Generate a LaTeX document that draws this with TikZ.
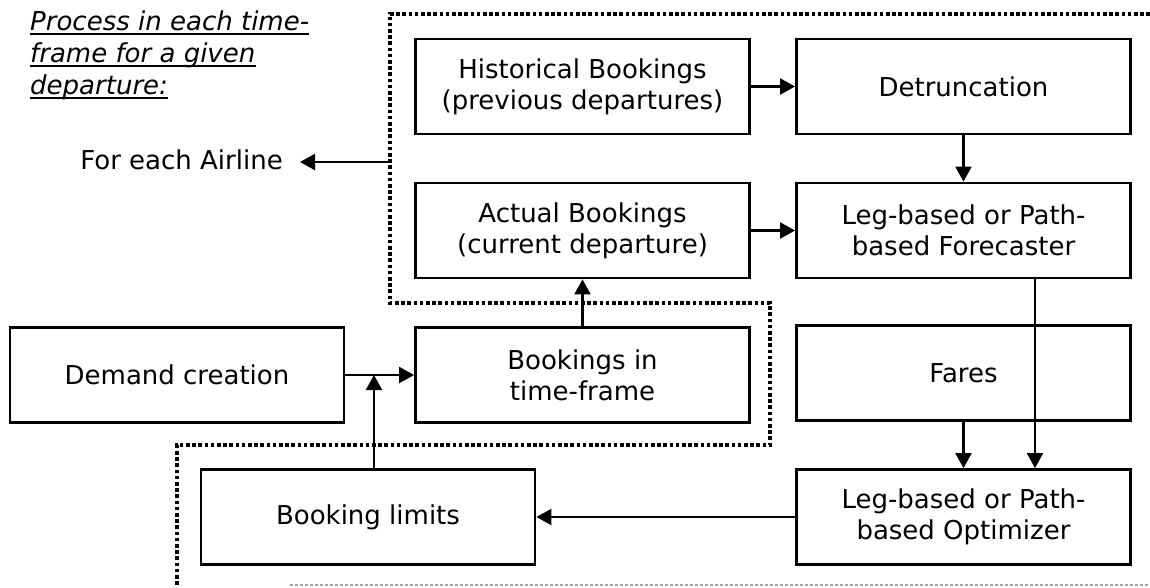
\documentclass[tikz,border=0pt]{standalone}
\usepackage{fontspec}
\setmainfont{DejaVu Sans}
\usetikzlibrary{arrows.meta}
\tikzset{
  procbox/.style={draw, line width=2.8pt, minimum width=334pt, minimum height=95pt,
    inner sep=0pt, align=center, font=\fontsize{26}{31}\selectfont},
  flow/.style={line width=2.2pt, -{Triangle[length=15pt,width=16pt]}},
  bound/.style={line width=3.6pt, dash pattern=on 3.6pt off 2.6pt, line cap=butt},
  faint/.style={line width=1.2pt, dash pattern=on 3pt off 2pt, black!35},
  heading/.style={anchor=base west, inner sep=0pt, font=\fontsize{26}{32}\selectfont\itshape},
  rule/.style={line width=2pt},
}
\begin{document}
\begin{tikzpicture}[x=1pt,y=-1pt]
\useasboundingbox (0,0) rectangle (1150,587);

% scope of the airline process
\draw[bound] (1150,14) -- (390,14) -- (390,303) -- (770,303) -- (770,445)
  -- (177,445) -- (177,587);
\draw[faint] (290,585) -- (1150,585);

% heading, underlined line by line
\node[heading] (title1) at (30,30) {Process in each time-};
\node[heading] (title2) at (30,62) {frame for a given};
\node[heading] (title3) at (30,94) {departure:};
\foreach \t in {title1,title2,title3}
  \draw[rule] ([yshift=-4pt]\t.base west) -- ([yshift=-4pt]\t.base east);

% boxes
\node[procbox] (hist)   at (582.5,86.5) {Historical Bookings\\(previous departures)};
\node[procbox] (detr)   at (963.5,86.5) {Detruncation};
\node[procbox] (actual) at (582.5,230.5) {Actual Bookings\\(current departure)};
\node[procbox] (fore)   at (963.5,230.5) {Leg-based or Path-\\based Forecaster};
\node[procbox] (demand) at (177,375) {Demand creation};
\node[procbox] (btf)    at (582.5,375) {Bookings in\\time-frame};
\node[procbox] (fares)  at (963.5,373) {Fares};
\node[procbox] (blim)   at (368,517) {Booking limits};
\node[procbox] (opt)    at (963.5,517) {Leg-based or Path-\\based Optimizer};

% airline label
\node[anchor=base east, inner sep=0pt, font=\fontsize{26}{31}\selectfont] (air) at (283,169) {For each Airline};
\coordinate (airsrc) at (390,162);
\coordinate (airtip) at (300,162);
\draw[flow] (airsrc) -- (airtip);

% connectors
\coordinate (join) at (374,375);
\coordinate (fcol) at (1035,0);
\draw[flow] (hist.east) -- (detr.west);
\draw[flow] (detr.south) -- (fore.north);
\draw[flow] (actual.east) -- (fore.west);
\draw[flow] (btf.north) -- (actual.south);
\draw[flow] (demand.east) -- (btf.west);
\draw[flow] (blim.north -| join) -- (join);
\draw[flow] (fore.south -| fcol) -- (opt.north -| fcol);
\draw[flow] (fares.south) -- (opt.north);
\draw[flow] (opt.west) -- (blim.east);
\end{tikzpicture}
\end{document}
